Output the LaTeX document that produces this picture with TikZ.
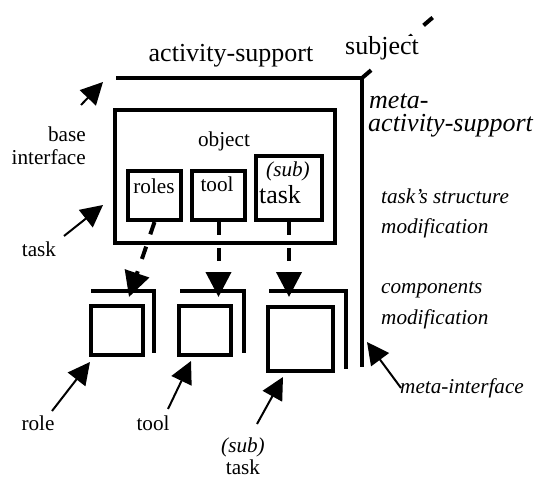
\documentclass[tikz,border=0pt]{standalone}
\usepackage{fontspec}
\setmainfont{Liberation Serif}
\usetikzlibrary{arrows.meta}

\begin{document}
\begin{tikzpicture}[x=1bp,y=-1bp,
  frame/.style={draw,line width=4bp,inner sep=0pt},
  edge/.style={line width=4bp,line join=miter},
  pointer/.style={line width=2bp,-{Triangle[length=22bp,width=22bp]}},
  flow/.style={line width=4bp,dash pattern=on 13bp off 13bp,-{Triangle[length=25bp,width=25bp]}},
  txt/.style={inner sep=0pt,font=\fontsize{21.2bp}{25bp}\selectfont},
  ittxt/.style={inner sep=0pt,font=\fontsize{21.2bp}{25bp}\selectfont\itshape},
  bigtxt/.style={inner sep=0pt,font=\fontsize{26bp}{31bp}\selectfont}]
\useasboundingbox (0,0) rectangle (541,477);

% the two axes
\coordinate (corner) at (362,78);
\coordinate (far) at (438,13);
\draw[edge] (116,78) -- (corner) -- (362,367);
\draw[line width=4bp,dash pattern=on 12bp off 15bp] (corner) -- (far);
\node[bigtxt,anchor=base] (support) at (231,62) {activity-support};
\node[bigtxt,anchor=base,fill=white,inner sep=1bp] (subject) at (382,55) {subject};
\node[bigtxt,anchor=base west,font=\fontsize{26bp}{31bp}\selectfont\itshape] (meta) at (369,109) {meta-};
\node[bigtxt,anchor=base west,font=\fontsize{26bp}{31bp}\selectfont\itshape] (metasupport) at (368,132) {activity-support};

% object and its parts
\node[frame,minimum width=220bp,minimum height=133bp] (objbox) at (225,176.5) {};
\node[txt,anchor=base] (object) at (224,147) {object};
\node[frame,minimum width=53bp,minimum height=49bp] (rolesbox) at (154.5,195.5) {};
\node[frame,minimum width=53bp,minimum height=49bp] (toolbox) at (218.5,195.5) {};
\node[frame,minimum width=66bp,minimum height=64bp] (taskbox) at (289,188) {};
\node[txt,anchor=base] (roles) at (154,194) {roles};
\node[txt,anchor=base] (tool) at (217,192) {tool};
\node[ittxt,anchor=base] (sub) at (288,177) {(sub)};
\node[bigtxt,anchor=base] (task) at (280,204) {task};

% components
\node[frame,minimum width=52bp,minimum height=49bp] (rolesq) at (117,330.5) {};
\node[frame,minimum width=52bp,minimum height=49bp] (toolsq) at (205,330.5) {};
\node[frame,minimum width=65bp,minimum height=64bp] (tasksq) at (300.5,339) {};
\draw[edge] (91,291) -- (154,291) -- (154,353);
\draw[edge] (180,291) -- (244,291) -- (244,353);
\draw[edge] (269,291) -- (346,291) -- (346,369);
\coordinate (rolestip) at (129,297);
\coordinate (tooltip) at (218.5,297);
\coordinate (tasktip) at (289,297);
\draw[flow] (rolesbox.south) -- (rolestip);
\draw[flow] (toolbox.south) -- (tooltip);
\draw[flow] (taskbox.south) -- (tasktip);

% labels on the left
\node[txt,anchor=base east] (base) at (86,142) {base};
\node[txt,anchor=base east] (interface) at (86,165) {interface};
\node[txt,anchor=base] (tasklbl) at (39,256) {task};
\node[txt,anchor=base] (rolelbl) at (38,430) {role};
\node[txt,anchor=base] (toollbl) at (153,430) {tool};
\node[ittxt,anchor=base] (sublbl) at (243,452) {(sub)};
\node[txt,anchor=base] (subtask) at (243,474) {task};

% labels on the right
\node[ittxt,anchor=base west] (structure) at (381,204) {task's structure};
\node[ittxt,anchor=base west] (modif1) at (381,233) {modification};
\node[ittxt,anchor=base west] (components) at (381,293) {components};
\node[ittxt,anchor=base west] (modif2) at (381,324) {modification};
\node[ittxt,anchor=base west] (metaif) at (400,393) {meta-interface};

% pointers
\coordinate (basefrom) at (81,105);  \coordinate (baseto) at (103,82);
\coordinate (taskfrom) at (64,236);  \coordinate (taskto) at (103,205);
\coordinate (rolefrom) at (52,411);  \coordinate (roleto) at (90,362);
\coordinate (toolfrom) at (168,409); \coordinate (toolto) at (191,361);
\coordinate (subfrom) at (257,424);  \coordinate (subto) at (283,377);
\coordinate (metafrom) at (401,388); \coordinate (metato) at (367,342);
\draw[pointer] (basefrom) -- (baseto);
\draw[pointer] (taskfrom) -- (taskto);
\draw[pointer] (rolefrom) -- (roleto);
\draw[pointer] (toolfrom) -- (toolto);
\draw[pointer] (subfrom) -- (subto);
\draw[pointer] (metafrom) -- (metato);
\end{tikzpicture}
\end{document}
